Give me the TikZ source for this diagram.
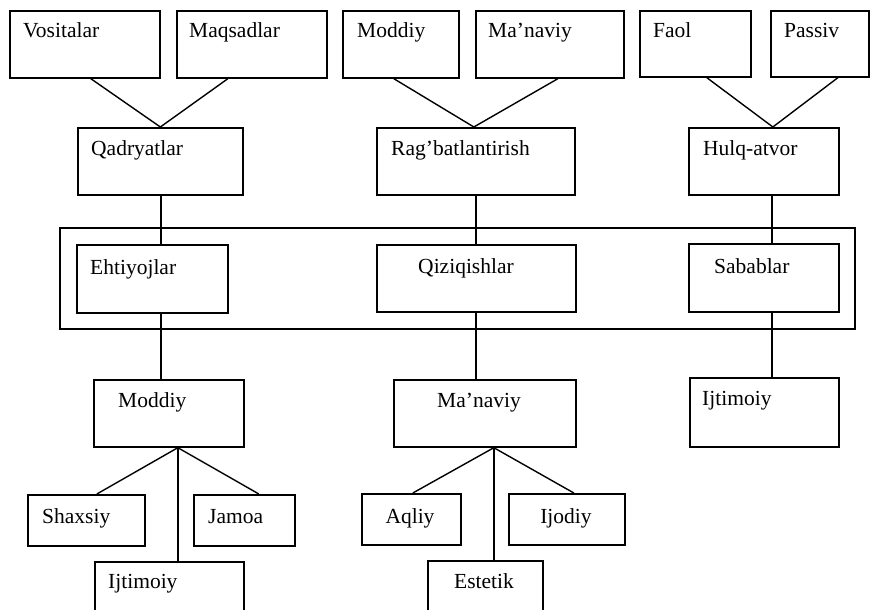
\documentclass[tikz,border=0pt]{standalone}
\usepackage{fontspec}
\setmainfont{Liberation Serif}
\usetikzlibrary{calc}
\tikzset{
  bx/.style={draw=black, line width=1.7pt, rectangle, inner sep=0pt, anchor=north west},
  lnk/.style={draw=black, line width=1.4pt},
  lbl/.style={anchor=base west, inner sep=0pt, font=\fontsize{21.5}{24}\selectfont},
  lblc/.style={anchor=base, inner sep=0pt, font=\fontsize{21.5}{24}\selectfont}
}
\newcommand{\mybox}[5]{\node[bx, minimum width={(#4-#2)*1pt}, minimum height={(#5-#3)*1pt}] (#1) at (#2,#3) {};}
\begin{document}
\begin{tikzpicture}[x=1pt,y=-1pt]
\useasboundingbox (0,0) rectangle (870,610);
\clip (0,0) rectangle (870,610);
\fill[white] (0,0) rectangle (870,610);
% top row
\mybox{vos}{9}{10}{159}{77}
\mybox{maq}{176}{10}{326}{77}
\mybox{modA}{342}{10}{458}{77}
\mybox{manA}{475}{10}{623}{77}
\mybox{faol}{639}{10}{750}{76}
\mybox{pas}{770}{10}{868}{76}
% second row
\mybox{qad}{77}{127}{242}{194}
\mybox{rag}{376}{127}{574}{194}
\mybox{hulq}{688}{127}{838}{194}
% frame
\mybox{frame}{59}{227}{854}{328}
\mybox{eht}{76}{244}{227}{312}
\mybox{qiz}{376}{244}{575}{311}
\mybox{sab}{688}{243}{838}{311}
% fourth row
\mybox{modB}{93}{379}{243}{446}
\mybox{manB}{393}{379}{575}{446}
\mybox{ijtA}{689}{377}{838}{446}
% bottom
\mybox{sha}{27}{494}{144}{545}
\mybox{jam}{193}{494}{294}{545}
\mybox{ijtB}{94}{561}{243}{630}
\mybox{aql}{361}{493}{460}{544}
\mybox{ijo}{508}{493}{624}{544}
\mybox{est}{427}{560}{542}{630}
% texts
\node[lbl] (tvos) at (23,38) {Vositalar};
\node[lbl] (tmaq) at (189,38) {Maqsadlar};
\node[lbl] (tmodA) at (357,38) {Moddiy};
\node[lbl] (tmanA) at (488,38) {Ma’naviy};
\node[lbl] (tfaol) at (653,38) {Faol};
\node[lbl] (tpas) at (784,38) {Passiv};
\node[lbl] (tqad) at (91,155) {Qadryatlar};
\node[lbl] (trag) at (391,155) {Rag’batlantirish};
\node[lbl] (thulq) at (703,155) {Hulq-atvor};
\node[lbl] (teht) at (90,274) {Ehtiyojlar};
\node[lblc] (tqiz) at (466,273) {Qiziqishlar};
\node[lbl] (tsab) at (714,273) {Sabablar};
\node[lbl] (tmodB) at (118,407) {Moddiy};
\node[lbl] (tmanB) at (437,407) {Ma’naviy};
\node[lbl] (tijtA) at (702,405) {Ijtimoiy};
\node[lbl] (tsha) at (42,523) {Shaxsiy};
\node[lbl] (tjam) at (208,523) {Jamoa};
\node[lblc] (taql) at (410,523) {Aqliy};
\node[lblc] (tijo) at (566,523) {Ijodiy};
\node[lblc] (test) at (484,588) {Estetik};
\node[lbl] (tijtB) at (108,588) {Ijtimoiy};
% connectors
\draw[lnk] ([xshift=6pt]vos.south) -- (qad.north);
\draw[lnk] ([xshift=-24pt]maq.south) -- (qad.north);
\draw[lnk] ([xshift=-7pt]modA.south) -- ([xshift=-2pt]rag.north);
\draw[lnk] ([xshift=8pt]manA.south) -- ([xshift=-2pt]rag.north);
\draw[lnk] ([xshift=11.5pt]faol.south) -- ([xshift=9pt]hulq.north);
\draw[lnk] ([xshift=18pt]pas.south) -- ([xshift=9pt]hulq.north);
\draw[lnk] ([xshift=0.5pt]qad.south) -- ([xshift=8.5pt]eht.north);
\draw[lnk] (rag.south) -- ([xshift=-0.5pt]qiz.north);
\draw[lnk] ([xshift=8pt]hulq.south) -- ([xshift=8pt]sab.north);
\draw[lnk] ([xshift=8.5pt]eht.south) -- ([xshift=-8pt]modB.north);
\draw[lnk] ([xshift=-0.5pt]qiz.south) -- ([xshift=-9pt]manB.north);
\draw[lnk] ([xshift=8pt]sab.south) -- ([xshift=7.5pt]ijtA.north);
\draw[lnk] ([xshift=9pt]modB.south) -- ([xshift=10.5pt]sha.north);
\draw[lnk] ([xshift=9pt]modB.south) -- ([xshift=14.5pt]jam.north);
\draw[lnk] ([xshift=9pt]modB.south) -- ([xshift=8.5pt]ijtB.north);
\draw[lnk] ([xshift=9pt]manB.south) -- ([xshift=1.5pt]aql.north);
\draw[lnk] ([xshift=9pt]manB.south) -- ([xshift=7pt]ijo.north);
\draw[lnk] ([xshift=9pt]manB.south) -- ([xshift=8.5pt]est.north);
\end{tikzpicture}
\end{document}
